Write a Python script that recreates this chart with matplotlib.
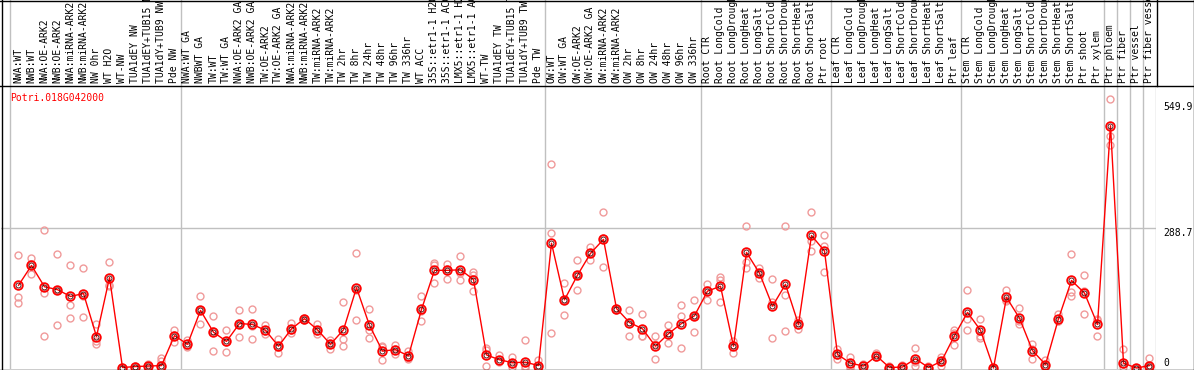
import matplotlib
matplotlib.use('Agg')
import matplotlib.pyplot as plt
from matplotlib.lines import Line2D
import numpy as np

gene = "Potri.018G042000"

categories = [
    "NWA:WT", "NWB:WT", "NWA:OE-ARK2", "NWB:OE-ARK2", "NWA:miRNA-ARK2", "NWB:miRNA-ARK2",
    "NW 0hr", "WT H2O", "WT-NW", "TUA1dEY NW", "TUA1dEY+TUB15 NW", "TUA1dY+TUB9 NW", "Pde NW",
    "NWA:WT GA", "NWBWT GA", "TW:WT", "TW:WT GA", "NWA:OE-ARK2 GA", "NWB:OE-ARK2 GA",
    "TW:OE-ARK2", "TW:OE-ARK2 GA", "NWA:miRNA-ARK2", "NWB:miRNA-ARK2", "TW:miRNA-ARK2",
    "TW:miRNA-ARK2", "TW 2hr", "TW 8hr", "TW 24hr", "TW 48hr", "TW 96hr", "TW 336hr",
    "WT ACC", "35S::etr1-1 H2O", "35S::etr1-1 ACC", "LMX5::etr1-1 H2O", "LMX5::etr1-1 ACC",
    "WT-TW", "TUA1dEY TW", "TUA1dEY+TUB15 TW", "TUA1dY+TUB9 TW", "Pde TW",
    "OW:WT", "OW:WT GA", "OW:OE-ARK2", "OW:OE-ARK2 GA", "OW:miRNA-ARK2", "OW:miRNA-ARK2",
    "OW 2hr", "OW 8hr", "OW 24hr", "OW 48hr", "OW 96hr", "OW 336hr",
    "Root CTR", "Root LongCold", "Root LongDrought", "Root LongHeat", "Root LongSalt",
    "Root ShortCold", "Root ShortDrought", "Root ShortHeat", "Root ShortSalt", "Ptr root",
    "Leaf CTR", "Leaf LongCold", "Leaf LongDrought", "Leaf LongHeat", "Leaf LongSalt",
    "Leaf ShortCold", "Leaf ShortDrought", "Leaf ShortHeat", "Leaf ShortSalt", "Ptr leaf",
    "Stem CTR", "Stem LongCold", "Stem LongDrought", "Stem LongHeat", "Stem LongSalt",
    "Stem ShortCold", "Stem ShortDrought", "Stem ShortHeat", "Stem ShortSalt",
    "Ptr shoot", "Ptr xylem", "Ptr phloem", "Ptr fiber", "Ptr vessel", "Ptr fiber vessel",
]

mean_vals = [
    171, 212, 168, 162, 148, 154, 65, 187, 1, 3, 4, 5, 67,
    49, 119, 74, 55, 92, 90, 78, 45, 81, 102, 79, 49, 79, 166, 88, 35, 38, 25,
    121, 202, 202, 203, 183, 27, 17, 11, 12, 5,
    258, 141, 192, 237, 266, 123, 94, 81, 45, 71, 92, 108,
    159, 169, 45, 239, 196, 128, 173, 90, 274, 242,
    28, 10, 4, 25, 1, 2, 19, 1, 14, 67,
    115, 78, 0, 146, 103, 36, 7, 102, 181, 155, 90,
    501, 10, 0, 5,
]

rep1 = [
    233, 228, 285, 235, 212, 206, 90, 220, 0, 2, 8, 20, 78,
    58, 148, 108, 78, 119, 123, 88, 59, 93, 104, 90, 57, 136, 237, 121, 45, 47, 36,
    148, 217, 215, 231, 198, 41, 27, 22, 58, 17,
    422, 175, 224, 251, 322, 125, 119, 111, 67, 88, 130, 141,
    173, 188, 56, 294, 207, 185, 294, 99, 322, 275,
    39, 22, 9, 30, 4, 7, 42, 5, 22, 79,
    162, 101, 0, 161, 125, 50, 16, 112, 235, 193, 102,
    556, 40, 1, 20,
]

rep2 = [
    146, 215, 156, 88, 131, 149, 56, 172, 1, 3, 4, 14, 54,
    43, 90, 36, 34, 64, 59, 71, 32, 73, 100, 71, 40, 59, 100, 79, 17, 28, 18,
    97, 212, 185, 181, 159, 38, 12, 9, 5, 5,
    280, 109, 161, 224, 208, 122, 67, 66, 18, 52, 108, 75,
    141, 183, 32, 219, 186, 136, 150, 81, 263, 252,
    19, 5, 1, 22, 1, 1, 12, 1, 5, 48,
    102, 66, 0, 138, 92, 18, 5, 98, 157, 112, 66,
    479, 8, 0, 5,
]

rep3 = [
    135, 194, 67, 162, 104, 106, 49, 170, 2, 5, 1, 2, 69,
    45, 119, 77, 54, 92, 87, 76, 44, 78, 102, 77, 49, 45, 161, 63, 43, 39, 20,
    117, 175, 205, 197, 192, 5, 14, 2, 1, 1,
    72, 141, 192, 237, 268, 120, 95, 66, 49, 73, 42, 108,
    162, 136, 47, 206, 196, 63, 76, 89, 241, 198,
    26, 1, 0, 22, 0, 0, 5, 0, 13, 73,
    78, 61, 1, 140, 98, 40, 1, 98, 149, 160, 99,
    461, 3, 0, 1,
]

ytick_vals = [0, 288.7, 549.9]
ytick_labels = ["0", "288.7", "549.9"]
grid_value = 288.7
group_bounds = [12.5, 40.5, 52.5, 62.5, 72.5, 83.5, 84.5, 85.5, 86.5]

W, H = 1194, 370
MONO = 'DejaVu Sans Mono'
FS = 7
GRAY = '#c0c0c0'
RED = '#ff0000'
PINK = '#f09a9a'

fig = plt.figure(figsize=(W / 100, H / 100), dpi=100)
fig.patch.set_facecolor('white')


def rect(x0, y0, x1, y1):
    return [x0 / W, 1 - y1 / H, (x1 - x0) / W, (y1 - y0) / H]


ax = fig.add_axes(rect(1, 85, 1156, 369))
hx = fig.add_axes(rect(1, 0, 1156, 85))
xlim = (-1.346, 87.5)
for a in (ax, hx):
    a.set_xlim(*xlim)
    a.set_xticks([])
    a.set_yticks([])
    for s in a.spines.values():
        s.set_visible(False)
    a.patch.set_alpha(0)
ax.set_ylim(-2.07, 585.2)
hx.set_ylim(0, 1)

x = np.arange(len(categories))

# vertical gray separators (through header and plot)
for a in (ax, hx):
    a.axvline(-0.65, color=GRAY, lw=1.0, zorder=0)
    for b in group_bounds:
        a.axvline(b, color=GRAY, lw=1.0, zorder=0)
ax.axvline(87.5, color=GRAY, lw=1.0, zorder=0)
ax.axhline(grid_value, color=GRAY, lw=1.0, zorder=0)

# replicates
for r in (rep1, rep2, rep3):
    ax.plot(x, r, linestyle='none', marker='o', markersize=5, markerfacecolor='none',
            markeredgecolor=PINK, markeredgewidth=1.0, zorder=2, clip_on=False)

# mean line
ax.plot(x, mean_vals, color=RED, lw=1.0, zorder=3)
ax.plot(x, mean_vals, linestyle='none', marker='o', markersize=6.2, markerfacecolor='none',
        markeredgecolor=RED, markeredgewidth=1.3, zorder=4, clip_on=False)
ax.plot(x, mean_vals, linestyle='none', marker='o', markersize=3.6, markerfacecolor='none',
        markeredgecolor='#400000', markeredgewidth=0.6, zorder=5, clip_on=False)

# header labels
for i, lab in enumerate(categories):
    hx.text(i, 2 / 85, lab, rotation=90, ha='center', va='bottom', family=MONO,
            fontsize=FS, color='black', transform=hx.get_xaxis_transform(), clip_on=True)

# gene title
ax.text(9 / 1155, 0.972, gene, transform=ax.transAxes, ha='left', va='top',
        family=MONO, fontsize=FS, color=RED)

# y labels on the right
for v, lab in zip(ytick_vals, ytick_labels):
    ax.text(1.006, v, lab, transform=ax.get_yaxis_transform(), ha='left',
            va='bottom' if v == 0 else 'top', family=MONO, fontsize=FS, color='black',
            clip_on=False)

# frame lines in pixel coordinates
ov = fig.add_axes([0, 0, 1, 1])
ov.set_xlim(0, W)
ov.set_ylim(H, 0)
ov.axis('off')
ov.patch.set_alpha(0)
lw = 1.0
ov.add_line(Line2D([0, W], [0.5, 0.5], color='black', lw=lw))
ov.add_line(Line2D([0, W], [85.5, 85.5], color='black', lw=lw))
ov.add_line(Line2D([0, W], [369.5, 369.5], color='black', lw=lw))
ov.add_line(Line2D([1.5, 1.5], [0, H], color='black', lw=lw))
ov.add_line(Line2D([1193.5, 1193.5], [0, H], color='black', lw=lw))
ov.add_line(Line2D([1156.5, 1156.5], [0, 85.5], color='black', lw=lw))

fig.savefig('out.png', dpi=100)
